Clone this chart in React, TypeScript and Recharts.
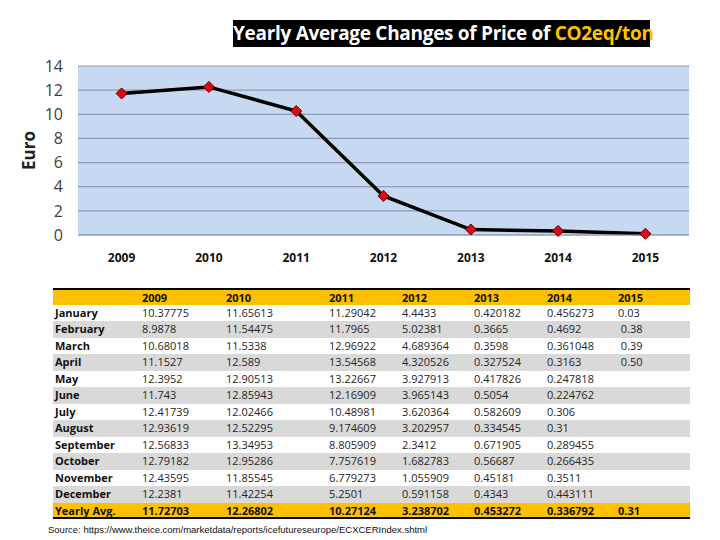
import React from 'react';
import { LineChart, Line, XAxis, YAxis, CartesianGrid, Label } from 'recharts';

// chart values
const years = ['2009', '2010', '2011', '2012', '2013', '2014', '2015'];
const yearlyAvg = [11.72703, 12.26802, 10.27124, 3.238702, 0.453272, 0.336792, 0.1];
const yTicks = [0, 2, 4, 6, 8, 10, 12, 14];

// table values
const months = ['January', 'February', 'March', 'April', 'May', 'June', 'July', 'August', 'September', 'October', 'November', 'December'];
const col2009 = ['10.37775', '8.9878', '10.68018', '11.1527', '12.3952', '11.743', '12.41739', '12.93619', '12.56833', '12.79182', '12.43595', '12.2381'];
const col2010 = ['11.65613', '11.54475', '11.5338', '12.589', '12.90513', '12.85943', '12.02466', '12.52295', '13.34953', '12.95286', '11.85545', '11.42254'];
const col2011 = ['11.29042', '11.7965', '12.96922', '13.54568', '13.22667', '12.16909', '10.48981', '9.174609', '8.805909', '7.757619', '6.779273', '5.2501'];
const col2012 = ['4.4433', '5.02381', '4.689364', '4.320526', '3.927913', '3.965143', '3.620364', '3.202957', '2.3412', '1.682783', '1.055909', '0.591158'];
const col2013 = ['0.420182', '0.3665', '0.3598', '0.327524', '0.417826', '0.5054', '0.582609', '0.334545', '0.671905', '0.56687', '0.45181', '0.4343'];
const col2014 = ['0.456273', '0.4692', '0.361048', '0.3163', '0.247818', '0.224762', '0.306', '0.31', '0.289455', '0.266435', '0.3511', '0.443111'];
const col2015 = ['0.03', ' 0.38', ' 0.39', ' 0.50', '', '', '', '', '', '', '', ''];
const avgLabels = ['11.72703', '12.26802', '10.27124', '3.238702', '0.453272', '0.336792', '0.31'];

const columns = [col2009, col2010, col2011, col2012, col2013, col2014, col2015];
const colLefts = [142, 226, 329, 402, 474, 547, 618];

const chartData = years.map((y, i) => ({ year: y, avg: yearlyAvg[i] }));

const FONT = '"Open Sans", "DejaVu Sans", sans-serif';

const Diamond = (props: any) => {
  const { cx, cy } = props;
  if (cx == null || cy == null) return null;
  const s = 5.5;
  return (
    <polygon
      points={`${cx},${cy - s} ${cx + s},${cy} ${cx},${cy + s} ${cx - s},${cy}`}
      fill="#e30613"
      stroke="#5a0000"
      strokeWidth={1}
    />
  );
};

function DataTable() {
  const rowH = 16.5;
  const top = 288;
  const rowStyle = (i: number, kind: 'head' | 'body' | 'avg'): React.CSSProperties => ({
    position: 'absolute',
    left: 53,
    width: 637,
    top: top + i * rowH,
    height: rowH,
    background: kind === 'body' ? (i % 2 === 0 ? '#d9d9d9' : '#ffffff') : '#ffc000',
    borderTop: kind === 'head' ? '2px solid #000' : undefined,
    borderBottom: kind === 'avg' ? '2px solid #000' : undefined,
    boxSizing: 'border-box',
  });
  const cell = (left: number, text: string, bold: boolean, key: string) => (
    <span
      key={key}
      style={{
        position: 'absolute',
        left: left - 53,
        top: 0,
        lineHeight: '16px',
        fontSize: 11,
        fontWeight: bold ? 700 : 400,
        color: bold ? '#111' : '#262626',
        whiteSpace: 'pre',
      }}
    >
      {text}
    </span>
  );
  return (
    <div style={{ fontFamily: FONT }}>
      <div style={rowStyle(0, 'head')}>
        {years.map((y, j) => cell(colLefts[j], y, true, 'h' + j))}
      </div>
      {months.map((m, i) => (
        <div key={m} style={rowStyle(i + 1, 'body')}>
          {cell(55, m, true, 'm')}
          {columns.map((c, j) => cell(colLefts[j], c[i], false, 'c' + j))}
        </div>
      ))}
      <div style={rowStyle(13, 'avg')}>
        {cell(55, 'Yearly Avg.', true, 'm')}
        {avgLabels.map((a, j) => cell(colLefts[j], a, true, 'a' + j))}
      </div>
    </div>
  );
}

export default function App() {
  return (
    <div style={{ position: 'absolute', left: 0, top: 0, width: 720, height: 540, background: '#fff', overflow: 'hidden' }}>
      <div
        style={{
          position: 'absolute',
          left: 233,
          top: 20,
          width: 417,
          height: 27,
          background: '#000',
          color: '#fff',
          fontFamily: FONT,
          fontWeight: 700,
          fontSize: 19,
          lineHeight: '27px',
          textAlign: 'center',
          whiteSpace: 'nowrap',
          letterSpacing: -0.3,
        }}
      >
        Yearly Average Changes of Price of <span style={{ color: '#ffc000' }}>CO2eq/ton</span>
      </div>
      <div style={{ position: 'absolute', left: 0, top: 0 }}>
        <LineChart
          width={720}
          height={275}
          data={chartData}
          margin={{ top: 66, right: 31, left: 20, bottom: 10 }}
        >
          <CartesianGrid vertical={false} fill="#c6d9f1" stroke="#8c9db5" strokeWidth={1.2} />
          <XAxis
            dataKey="year"
            padding={{ left: 43.6, right: 43.6 }}
            axisLine={{ stroke: '#8c9db5' }}
            tickLine={false}
            tickSize={0}
            tickMargin={18}
            height={30}
            tick={{ fontSize: 12, fontWeight: 700, fill: '#111', fontFamily: FONT }}
          />
          <YAxis
            domain={[0, 14]}
            ticks={yTicks}
            width={58}
            axisLine={false}
            tickLine={false}
            tickSize={0}
            tickMargin={15}
            tick={{ fontSize: 16, fill: '#404040', fontFamily: FONT }}
          >
            <Label
              content={(p: any) => {
                const vb = p.viewBox || {};
                const x = (vb.x ?? 20) + 8;
                const y = (vb.y ?? 66) + (vb.height ?? 169) / 2;
                return (
                  <text
                    x={x}
                    y={y}
                    transform={`rotate(-90, ${x}, ${y})`}
                    textAnchor="middle"
                    dominantBaseline="central"
                    fontSize={17}
                    fontWeight={700}
                    fill="#222"
                    fontFamily={FONT}
                  >
                    Euro
                  </text>
                );
              }}
            />
          </YAxis>
          <Line
            type="linear"
            dataKey="avg"
            stroke="#000"
            strokeWidth={3.5}
            dot={<Diamond />}
            activeDot={false}
            isAnimationActive={false}
          />
        </LineChart>
      </div>
      <DataTable />
      <div
        style={{
          position: 'absolute',
          left: 48,
          top: 524,
          fontFamily: '"Liberation Sans", Arial, sans-serif',
          fontSize: 9.5,
          color: '#111',
          whiteSpace: 'nowrap',
        }}
      >
        Source: https://www.theice.com/marketdata/reports/icefutureseurope/ECXCERIndex.shtml
      </div>
    </div>
  );
}
